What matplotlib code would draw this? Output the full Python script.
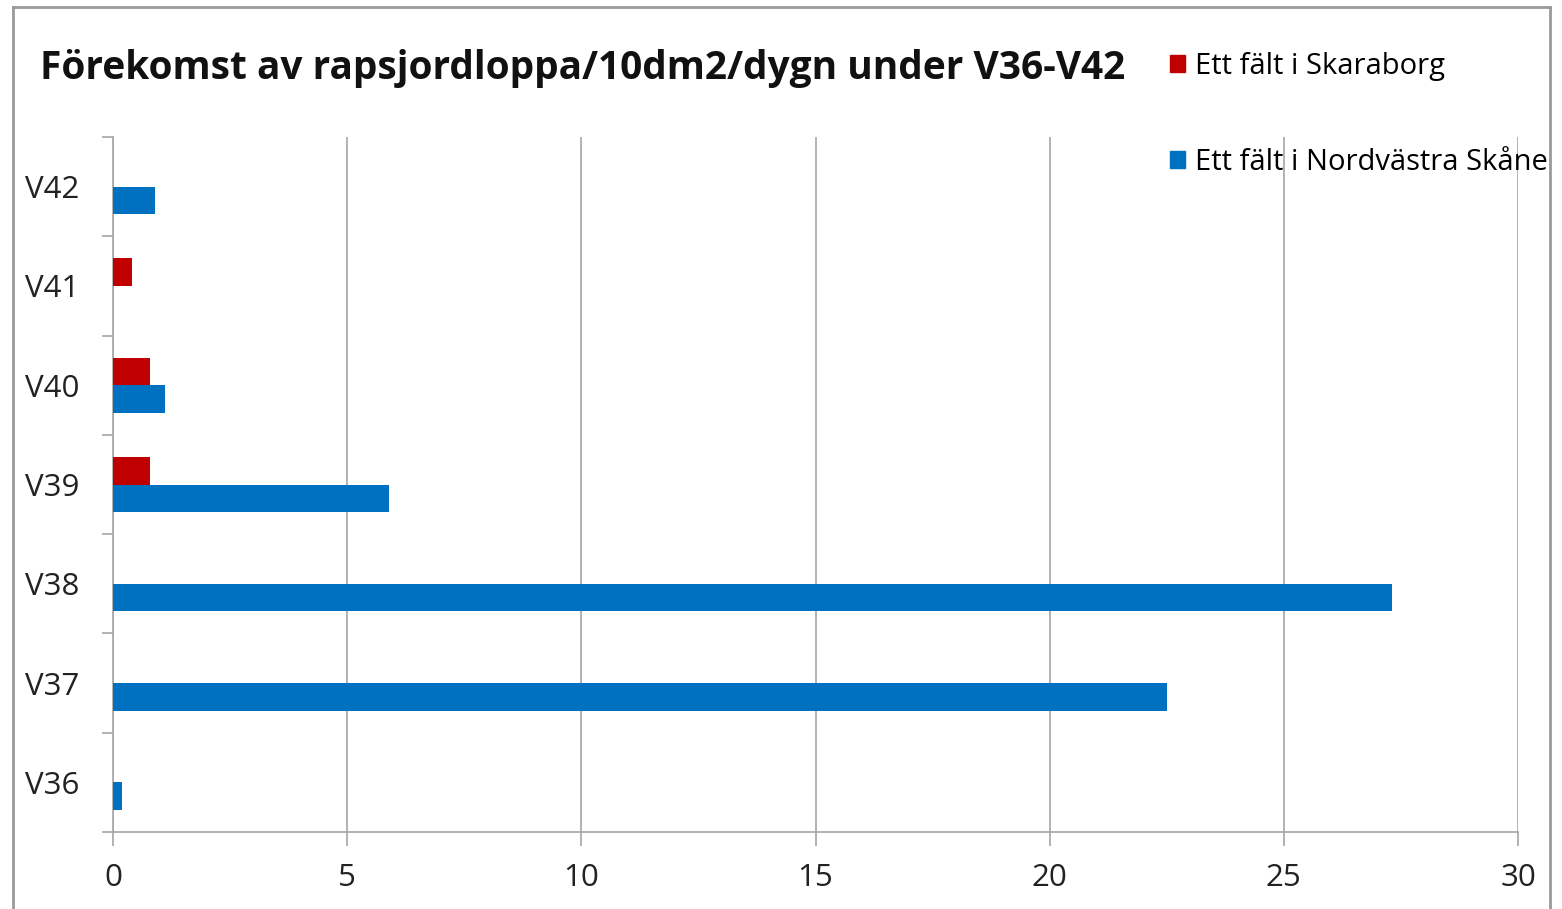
import numpy as np
import matplotlib.pyplot as plt
from matplotlib.lines import Line2D
from matplotlib.patches import Patch

# data
weeks = ['V36', 'V37', 'V38', 'V39', 'V40', 'V41', 'V42']
skane = [0.2, 22.5, 27.3, 5.9, 1.1, 0.0, 0.9]       # Ett fält i Nordvästra Skåne
skaraborg = [0.0, 0.0, 0.0, 0.8, 0.8, 0.4, 0.0]     # Ett fält i Skaraborg
xticks = [0, 5, 10, 15, 20, 25, 30]

blue = '#0070C0'
red = '#C00000'
grey = '#a6a6a6'
W, H = 1562, 909

plt.rcParams['font.family'] = ['Open Sans', 'DejaVu Sans']

fig = plt.figure(figsize=(W / 100, H / 100), dpi=100)
ax = fig.add_axes([113 / W, 1 - 832 / H, (1518 - 113) / W, (832 - 137) / H])

y = np.arange(len(weeks))
h = 0.278
ax.barh(y - h / 2, skane, height=h, color=blue, zorder=3)
ax.barh(y + h / 2, skaraborg, height=h, color=red, zorder=3)

ax.set_xlim(0, 30)
ax.set_ylim(-0.5, len(weeks) - 0.5)
ax.set_xticks(xticks)
ax.set_xticklabels([str(t) for t in xticks], fontsize=22.5)
ax.set_yticks(y)
ax.set_yticklabels(weeks, fontsize=22.5)
ax.set_yticks(np.arange(-0.5, len(weeks), 1), minor=True)

ax.tick_params(axis='y', which='major', length=0, pad=24, colors='#222222')
ax.tick_params(axis='y', which='minor', length=8, width=1.2, color=grey, direction='out')
ax.tick_params(axis='x', which='major', length=10, width=1.2, color=grey, pad=12, colors='#222222')
ax.tick_params(axis='x', colors=grey, labelcolor='#222222')

ax.grid(axis='x', color=grey, linewidth=1.2, zorder=0)
for s in ['top', 'right']:
    ax.spines[s].set_visible(False)
for s in ['left', 'bottom']:
    ax.spines[s].set_color(grey)
    ax.spines[s].set_linewidth(1.2)

fig.text(40 / W, 1 - 68 / H, 'Förekomst av rapsjordloppa/10dm2/dygn under V36-V42',
         fontsize=28, fontweight='bold', va='center', ha='left', color='#111111')

handles = [Patch(color=red), Patch(color=blue)]
fig.legend(handles, ['Ett fält i Skaraborg', 'Ett fält i Nordvästra Skåne'],
           loc='upper left', bbox_to_anchor=(1170 / W, 1 - 52 / H), frameon=False,
           fontsize=21, handlelength=0.52, handleheight=0.52, handletextpad=0.33,
           labelspacing=2.29, borderpad=0, borderaxespad=0)

# chart border
for xs, ys in [([13, 13], [7, H + 5]), ([13, 1550], [7, 7]), ([1550, 1550], [7, H + 5])]:
    fig.add_artist(Line2D([x / W for x in xs], [1 - v / H for v in ys], color='#9a9a9a', linewidth=2))

fig.savefig('out.png', dpi=100)
